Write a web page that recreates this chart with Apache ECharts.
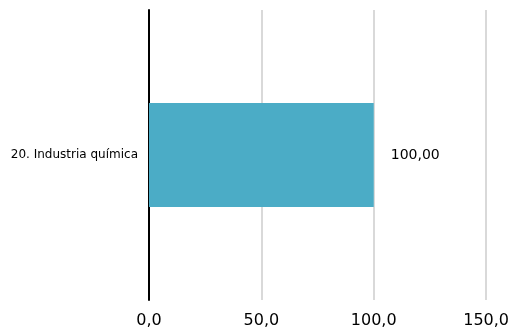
<!DOCTYPE html>
<html><head><meta charset="utf-8">
<script src="https://cdn.jsdelivr.net/npm/echarts@6/dist/echarts.min.js"></script>
<style>html,body{margin:0;padding:0;background:#fff}#c{width:512px;height:331px}</style>
</head><body><div id="c"></div>
<script>
const categories = ["20. Industria química"];
const values = [100.00];
const xMin = 0, xMax = 150, xInterval = 50;

const chart = echarts.init(document.getElementById('c'), null, {renderer:'canvas'});
chart.setOption({
  animation:false,
  grid:{left:149, right:25, top:10, bottom:31, containLabel:false},
  xAxis:{type:'value', min:xMin, max:xMax, interval:xInterval,
    axisLine:{show:false}, axisTick:{show:false},
    splitLine:{lineStyle:{color:'#d9d9d9', width:2}},
    axisLabel:{fontFamily:'DejaVu Sans', fontSize:16, color:'#000', margin:13,
      formatter:v=>v.toFixed(1).replace('.',',')}},
  yAxis:{type:'category', data:categories,
    axisLine:{show:true, lineStyle:{color:'#000', width:2}}, axisTick:{show:false},
    axisLabel:{fontFamily:'DejaVu Sans', fontSize:12, color:'#000', margin:11}},
  series:[{type:'bar', data:values, barWidth:104, itemStyle:{color:'#4BACC6'},
    label:{show:true, position:'right', distance:17, fontFamily:'DejaVu Sans', fontSize:14, color:'#000',
      formatter:p=>p.value.toFixed(2).replace('.',',')}}]
});
</script></body></html>
